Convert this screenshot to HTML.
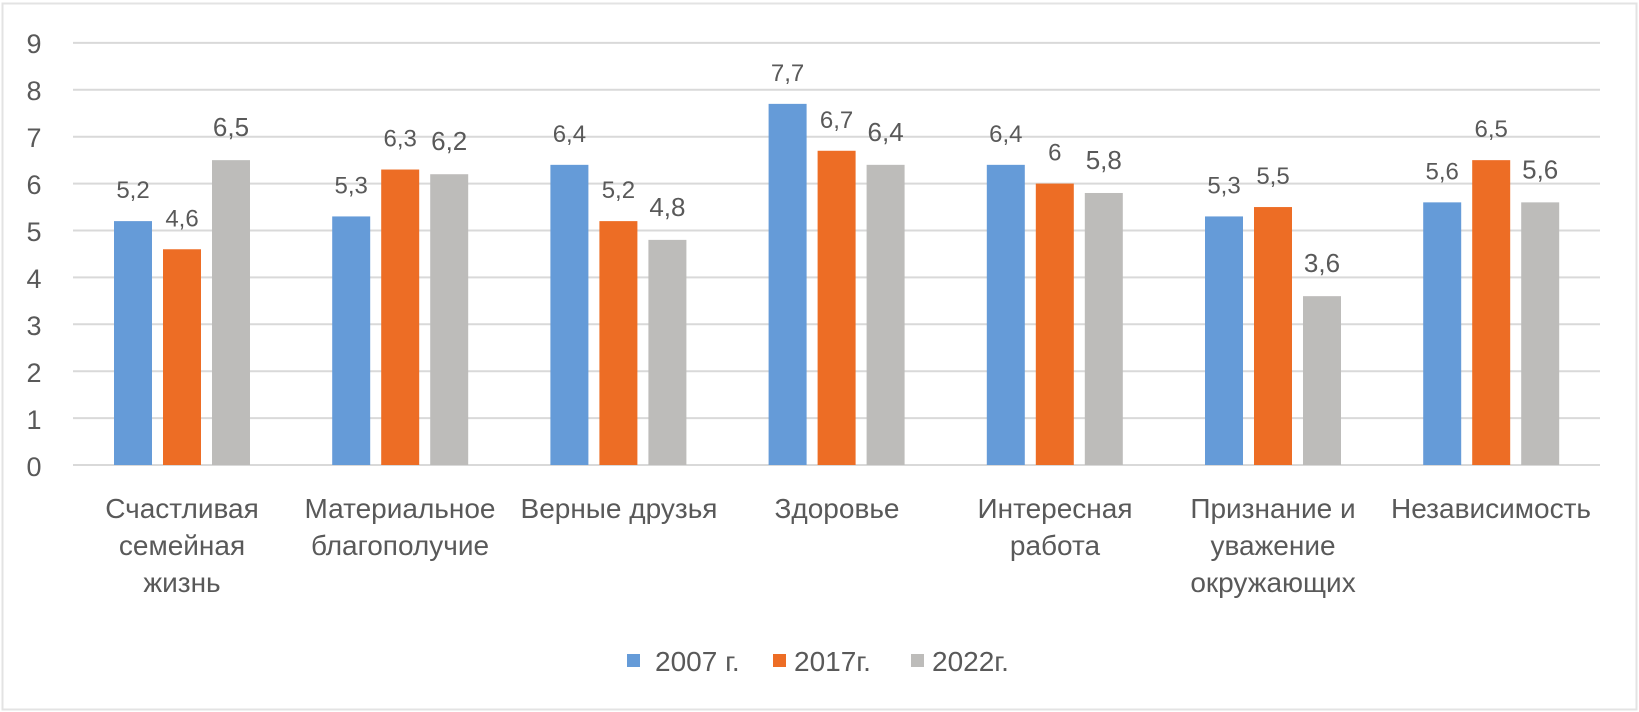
<!DOCTYPE html>
<html><head><meta charset="utf-8"><style>
html,body{margin:0;padding:0;background:#fff;}
svg{display:block;font-family:"Liberation Sans","DejaVu Sans",sans-serif;}
</style></head><body>
<svg width="1639" height="712" viewBox="0 0 1639 712" xmlns="http://www.w3.org/2000/svg">
<rect x="2.5" y="3.5" width="1634" height="706" fill="#fff" stroke="#E3E3E3" stroke-width="2"/>
<g stroke="#D9D9D9" stroke-width="2">
<line x1="73" x2="1600" y1="42.9" y2="42.9"/>
<line x1="73" x2="1600" y1="89.8" y2="89.8"/>
<line x1="73" x2="1600" y1="136.7" y2="136.7"/>
<line x1="73" x2="1600" y1="183.6" y2="183.6"/>
<line x1="73" x2="1600" y1="230.5" y2="230.5"/>
<line x1="73" x2="1600" y1="277.4" y2="277.4"/>
<line x1="73" x2="1600" y1="324.3" y2="324.3"/>
<line x1="73" x2="1600" y1="371.2" y2="371.2"/>
<line x1="73" x2="1600" y1="418.1" y2="418.1"/>
<line x1="73" x2="1600" y1="465" y2="465"/>
</g>
<g fill="#595959" font-size="27" text-anchor="middle">
<text x="34" y="53">9</text><text x="34" y="100">8</text><text x="34" y="147">7</text>
<text x="34" y="194">6</text><text x="34" y="241">5</text><text x="34" y="288">4</text>
<text x="34" y="335">3</text><text x="34" y="382">2</text><text x="34" y="429">1</text>
<text x="34" y="476">0</text>
</g>
<g id="bars"></g>
<g id="labels" fill="#595959" text-anchor="middle"></g>
<g fill="#595959" font-size="28" text-anchor="middle">
<text x="182" y="518">Счастливая</text><text x="182" y="555">семейная</text><text x="182" y="592">жизнь</text>
<text x="400" y="518">Материальное</text><text x="400" y="555">благополучие</text>
<text x="619" y="518">Верные друзья</text>
<text x="837" y="518">Здоровье</text>
<text x="1055" y="518">Интересная</text><text x="1055" y="555">работа</text>
<text x="1273" y="518">Признание и</text><text x="1273" y="555">уважение</text><text x="1273" y="592">окружающих</text>
<text x="1491" y="518">Независимость</text>
</g>
<g font-size="28" fill="#595959">
<rect x="627" y="654" width="13" height="13" fill="#659BD8"/><text x="655" y="671">2007 г.</text>
<rect x="773" y="654" width="13" height="13" fill="#ED6D25"/><text x="794" y="671">2017г.</text>
<rect x="911" y="654" width="13" height="13" fill="#BDBCBA"/><text x="932" y="671">2022г.</text>
</g>
<script>
var d=[[5.2,4.6,6.5],[5.3,6.3,6.2],[6.4,5.2,4.8],[7.7,6.7,6.4],[6.4,6,5.8],[5.3,5.5,3.6],[5.6,6.5,5.6]];
var c=["#659BD8","#ED6D25","#BDBCBA"],ns="http://www.w3.org/2000/svg";
var b=document.getElementById("bars"),l=document.getElementById("labels");
d.forEach(function(g,i){g.forEach(function(v,j){
var x=114+218.2*i+49*j,top=465-v*46.9;
var r=document.createElementNS(ns,"rect");r.setAttribute("x",x);r.setAttribute("y",top);r.setAttribute("width",38);r.setAttribute("height",465-top);r.setAttribute("fill",c[j]);b.appendChild(r);
var t=document.createElementNS(ns,"text");t.setAttribute("x",x+19);t.setAttribute("y",top-(j==2?24:23));t.setAttribute("font-size",j==2?26:24);t.textContent=String(v).replace(".",",");l.appendChild(t);
});});
</script>
</svg>
</body></html>
